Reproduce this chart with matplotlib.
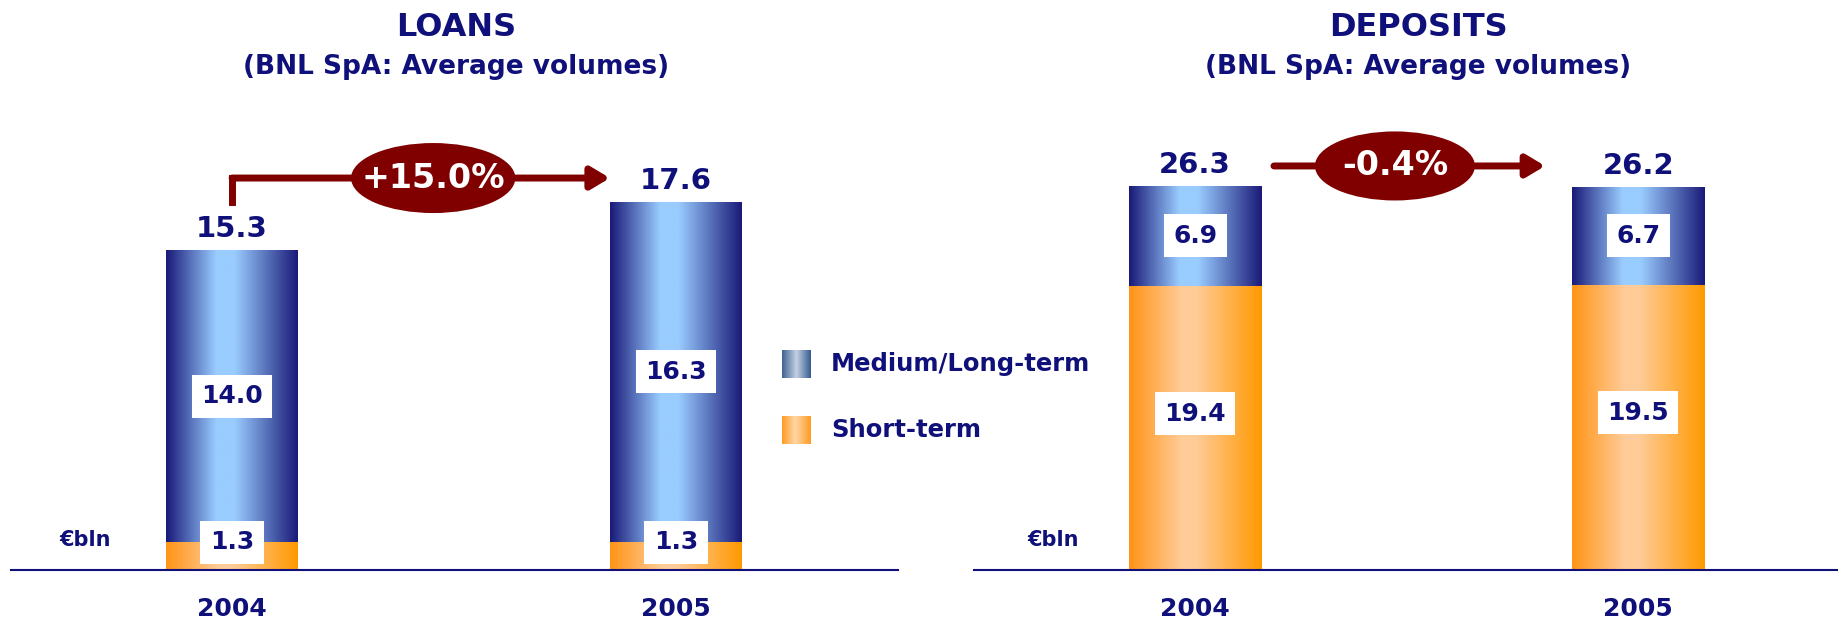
import numpy as np
import matplotlib.pyplot as plt
from matplotlib.colors import LinearSegmentedColormap
from matplotlib.patches import Ellipse

W, H = 1838, 620

years = ["2004", "2005"]
loans_short = [1.3, 1.3]
loans_medium = [14.0, 16.3]
loans_total = [15.3, 17.6]
loans_change = "+15.0%"
dep_short = [19.4, 19.5]
dep_medium = [6.9, 6.7]
dep_total = [26.3, 26.2]
dep_change = "-0.4%"

NAVY = "#10107a"
MAROON = "#800000"

blue_cm = LinearSegmentedColormap.from_list(
    "bar_blue", [(0, "#1a1a78"), (0.38, "#99ccff"), (0.52, "#99ccff"), (1, "#1a1a78")])
orange_cm = LinearSegmentedColormap.from_list(
    "bar_orange", [(0, "#ff9416"), (0.4, "#ffcc99"), (0.5, "#ffcc99"), (1, "#ff9900")])
leg_blue_cm = LinearSegmentedColormap.from_list(
    "leg_blue", [(0, "#3f6293"), (0.5, "#c3d1e2"), (1, "#345a8e")])
leg_orange_cm = LinearSegmentedColormap.from_list(
    "leg_orange", [(0, "#ff9a22"), (0.45, "#ffd7a6"), (1, "#ff9a22")])

grad = np.linspace(0, 1, 256).reshape(1, -1)

fig = plt.figure(figsize=(W / 100, H / 100), dpi=100)


def px_axes(x0, x1, y_base):
    ax = fig.add_axes([x0 / W, (H - y_base) / H, (x1 - x0) / W, y_base / H])
    ax.patch.set_alpha(0)
    for s in ["top", "left", "right"]:
        ax.spines[s].set_visible(False)
    ax.spines["bottom"].set_color(NAVY)
    ax.spines["bottom"].set_linewidth(1.5)
    ax.set_yticks([])
    return ax


def gradient_bars(ax, x, heights, bottom, width, cmap):
    bars = ax.bar(x, heights, width, bottom=bottom, facecolor="none", edgecolor="none")
    for b in bars:
        x0, y0 = b.get_x(), b.get_y()
        im = ax.imshow(grad, cmap=cmap, aspect="auto", zorder=2,
                       extent=[x0, x0 + b.get_width(), y0, y0 + b.get_height()])
        im.set_clip_path(b)
    return bars


def boxed(ax, x, y, val):
    ax.text(x, y, f"{val:.1f}", ha="center", va="center", fontsize=18,
            fontweight="bold", color=NAVY, zorder=5,
            bbox=dict(boxstyle="square,pad=0.38", facecolor="white", edgecolor="none"))


def panel(ax, short, medium, total, width, xlim, ylim, short_frac):
    x = np.arange(len(years))
    gradient_bars(ax, x, short, 0, width, orange_cm)
    gradient_bars(ax, x, medium, short, width, blue_cm)
    ax.set_xlim(*xlim)
    ax.set_ylim(*ylim)
    for i in x:
        boxed(ax, i, short[i] * short_frac, short[i])
        boxed(ax, i, short[i] + medium[i] / 2, medium[i])
        ax.annotate(f"{total[i]:.1f}", xy=(i, total[i]), xytext=(0, 15),
                    textcoords="offset points", ha="center", va="center",
                    fontsize=21, fontweight="bold", color=NAVY)
    ax.set_xticks(x)
    ax.set_xticklabels(years, fontsize=18, fontweight="bold", color=NAVY)
    ax.tick_params(axis="x", length=0, pad=20)


def change_badge(ax, x0, x1, y, cx, ew, eh, label):
    ax.annotate("", xy=(x1, y), xytext=(x0, y), zorder=3,
                arrowprops=dict(arrowstyle="-|>,head_length=0.5,head_width=0.3",
                                lw=5, color=MAROON, mutation_scale=22,
                                shrinkA=0, shrinkB=0))
    ax.add_patch(Ellipse((cx, y), ew, eh, facecolor=MAROON, edgecolor="none", zorder=4))
    ax.text(cx, y, label, ha="center", va="center", fontsize=24,
            fontweight="bold", color="white", zorder=5)


# loans
ax1 = px_axes(11, 898, 569.5)
panel(ax1, loans_short, loans_medium, loans_total, 0.297,
      (-0.498, 1.50), (0, 569.5 / 20.9), 1.0)
ax1.plot([0, 0], [17.6, 18.73], color=MAROON, lw=5, solid_capstyle="projecting", zorder=3)
change_badge(ax1, 0, 0.851, 18.73, 0.453, 0.37, 3.35, loans_change)

# deposits
ax2 = px_axes(974, 1838, 569.5)
panel(ax2, dep_short, dep_medium, dep_total, 0.298,
      (-0.499, 1.451), (0, 569.5 / 14.6), 0.55)
change_badge(ax2, 0.178, 0.79, 27.64, 0.451, 0.361, 4.73, dep_change)

# titles
for cx, title in [(456, "LOANS"), (1418, "DEPOSITS")]:
    fig.text(cx / W, 1 - 28 / H, title, ha="center", va="center",
             fontsize=23, fontweight="bold", color=NAVY)
    fig.text(cx / W, 1 - 67 / H, "(BNL SpA: Average volumes)", ha="center",
             va="center", fontsize=19, fontweight="bold", color=NAVY)

for xp in [59, 1027]:
    fig.text(xp / W, 1 - 540 / H, "€bln", ha="left", va="center",
             fontsize=15, fontweight="bold", color=NAVY)

# legend
for yc, cmap, lab in [(364, leg_blue_cm, "Medium/Long-term"), (430, leg_orange_cm, "Short-term")]:
    sw = fig.add_axes([782 / W, 1 - (yc + 14) / H, 29 / W, 28 / H])
    sw.imshow(grad, cmap=cmap, aspect="auto")
    sw.axis("off")
    fig.text(831 / W, 1 - yc / H, lab, ha="left", va="center",
             fontsize=17.5, fontweight="bold", color=NAVY)

fig.savefig("out.png", dpi=100)
